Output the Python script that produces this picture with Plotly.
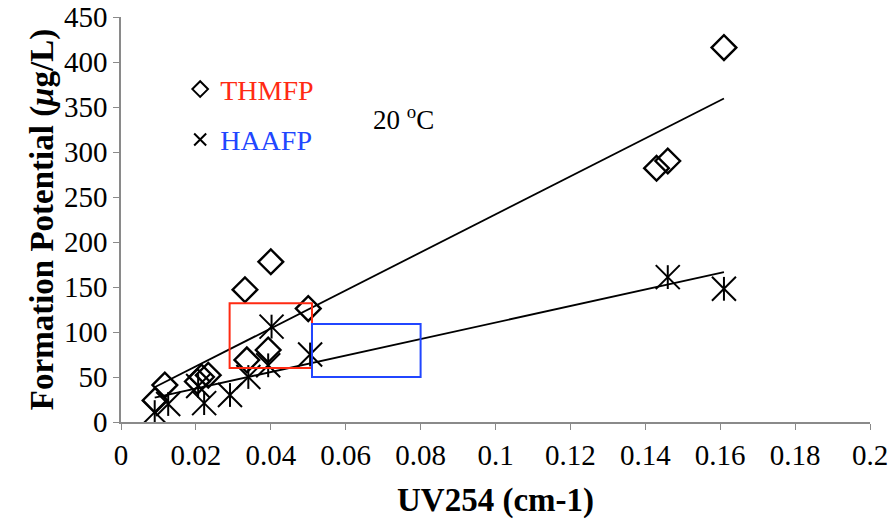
import numpy as np
import plotly.graph_objects as go

# Formation potential vs UV254 absorbance at 20 °C
uv_thm = [0.0091, 0.0117, 0.0204, 0.0215, 0.0233, 0.0331, 0.0336, 0.0393, 0.0400, 0.0500, 0.1430, 0.1460, 0.1610]
thmfp = [24, 41, 45, 50, 52, 147, 69, 80, 178, 126, 282, 290, 416]

uv_haa = [0.0090, 0.0126, 0.0206, 0.0222, 0.0291, 0.0340, 0.0393, 0.0402, 0.0505, 0.1460, 0.1610]
haafp = [11, 20, 40, 21, 30, 50, 63, 106, 75, 161, 148]

# highlighted regions: (x0, x1, y0, y1)
thm_box = (0.029, 0.051, 60, 132)
haa_box = (0.051, 0.080, 50, 109)

x_ticks = [0, 0.02, 0.04, 0.06, 0.08, 0.1, 0.12, 0.14, 0.16, 0.18, 0.2]
x_tick_text = ["0", "0.02", "0.04", "0.06", "0.08", "0.1", "0.12", "0.14", "0.16", "0.18", "0.2"]
y_ticks = [0, 50, 100, 150, 200, 250, 300, 350, 400, 450]

SERIF = "Liberation Serif, Times New Roman, serif"
RED = "#ff2a12"
BLUE = "#2146ff"
AXIS_GREY = "#8a8a8a"


def trend(x, y):
    """Least-squares line spanning the data's x range."""
    slope, intercept = np.polyfit(x, y, 1)
    xs = [min(x), max(x)]
    return xs, [float(slope * v + intercept) for v in xs]


fig = go.Figure()

# linear trend lines
for xs_src, ys_src in ((uv_thm, thmfp), (uv_haa, haafp)):
    tx, ty = trend(xs_src, ys_src)
    fig.add_trace(go.Scatter(x=tx, y=ty, mode="lines", showlegend=False,
                             line=dict(color="black", width=1.8), hoverinfo="skip"))

# THMFP: open diamonds
fig.add_trace(go.Scatter(
    x=uv_thm, y=thmfp, mode="markers", name=f"<span style='color:{RED}'>THMFP</span>",
    legendgroup="thm",
    marker=dict(symbol="diamond-open", size=19, color="black", line=dict(width=2.4, color="black")),
))

# HAAFP: six-armed star (x plus vertical bar)
fig.add_trace(go.Scatter(
    x=uv_haa, y=haafp, mode="markers", name=f"<span style='color:{BLUE}'>HAAFP</span>",
    legendgroup="haa",
    marker=dict(symbol="x-thin-open", size=24, color="black", line=dict(width=2, color="black")),
))
fig.add_trace(go.Scatter(
    x=uv_haa, y=haafp, mode="markers", showlegend=False, legendgroup="haa",
    marker=dict(symbol="line-ns-open", size=17, color="black", line=dict(width=2, color="black")),
))

for (x0, x1, y0, y1), col in ((thm_box, RED), (haa_box, BLUE)):
    fig.add_shape(type="rect", xref="x", yref="y", x0=x0, x1=x1, y0=y0, y1=y1,
                  line=dict(color=col, width=2), fillcolor="rgba(0,0,0,0)")

fig.add_annotation(x=0.0668, y=338, xref="x", yref="y", text="20 <sup>o</sup>C",
                   showarrow=False, xanchor="left", yanchor="middle",
                   font=dict(family=SERIF, size=27, color="black"))

axis_common = dict(showgrid=False, zeroline=False, showline=True, linecolor=AXIS_GREY,
                   linewidth=1.5, ticks="outside", ticklen=6, tickcolor=AXIS_GREY,
                   tickfont=dict(family=SERIF, size=29), automargin=False)

fig.update_layout(
    width=892, height=523,
    margin=dict(l=121, r=22, t=17, b=101),
    paper_bgcolor="white", plot_bgcolor="white",
    font=dict(family=SERIF, size=29, color="black"),
    legend=dict(x=0.079, y=0.883, xanchor="left", yanchor="top",
                bgcolor="rgba(0,0,0,0)", font=dict(family=SERIF, size=28),
                itemsizing="constant", traceorder="grouped", tracegroupgap=11,
                itemwidth=30),
    xaxis=dict(range=[0, 0.2], tickvals=x_ticks, ticktext=x_tick_text,
               title=dict(text="<b>UV254 (cm-1)</b>", font=dict(family=SERIF, size=33),
                          standoff=18),
               **axis_common),
    yaxis=dict(range=[0, 450], tickvals=y_ticks,
               title=dict(text="<b>Formation Potential (<i>μ</i>g/L)</b>",
                          font=dict(family=SERIF, size=33), standoff=0),
               **axis_common),
)

fig.write_html("out.html")
